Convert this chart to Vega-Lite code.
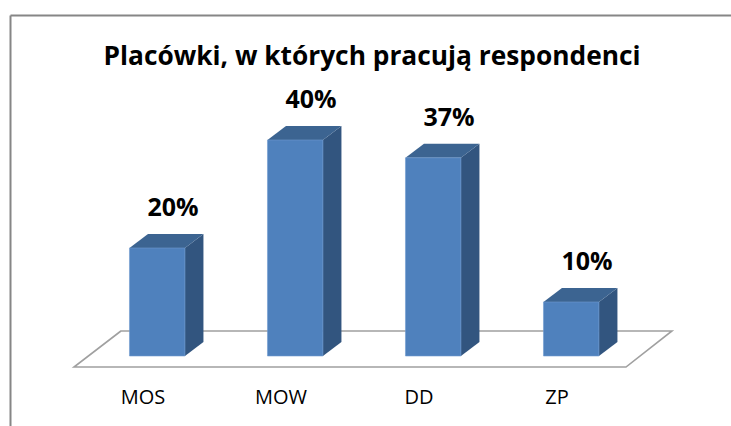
{
  "$schema": "https://vega.github.io/schema/vega-lite/v6.json",
  "width": 721,
  "height": 411,
  "autosize": "none",
  "padding": {"left": 10, "top": 15, "right": 0, "bottom": 0},
  "background": "white",
  "title": {"text": "Placówki, w których pracują respondenci", "font": "Open Sans", "fontSize": 26.3, "fontWeight": "bold", "color": "#000000", "anchor": "middle", "frame": "group", "orient": "top", "dx": 1.5, "dy": 55, "offset": 0},
  "config": {"view": {"stroke": null}},
  "data": {"values": [
    {"category": "MOS", "value": 20},
    {"category": "MOW", "value": 40},
    {"category": "DD", "value": 36.7},
    {"category": "ZP", "value": 10}
  ]},
  "transform": [
    {"window": [{"op": "row_number", "as": "n"}]},
    {"calculate": "datum.n - 1", "as": "i"}
  ],
  "encoding": {
    "x": {"field": "px", "type": "quantitative", "scale": {"domain": [-0.4638, 4.7609], "range": [0, 721], "nice": false, "zero": false},
      "axis": {"orient": "top", "title": null, "labels": false, "ticks": false, "grid": false, "domain": true, "domainColor": "#868686", "domainWidth": 2}},
    "y": {"field": "py", "type": "quantitative", "scale": {"domain": [-12.963, 63.148], "range": [411, 0], "nice": false, "zero": false},
      "axis": {"orient": "left", "title": null, "labels": false, "ticks": false, "grid": false, "domain": true, "domainColor": "#868686", "domainWidth": 2}}
  },
  "layer": [
    {
      "transform": [
        {"aggregate": [{"op": "count", "as": "c"}]},
        {"calculate": "[0, 1]", "as": "t"},
        {"flatten": ["t"]},
        {"calculate": "datum.t * 0.34", "as": "px"},
        {"calculate": "datum.c + datum.t * 0.333", "as": "px2"},
        {"calculate": "-2.04 + datum.t * 6.67", "as": "py"}
      ],
      "mark": {"type": "area", "orient": "horizontal", "fill": "#ffffff", "stroke": "#a0a0a0", "strokeWidth": 1.6},
      "encoding": {"x2": {"field": "px2"}}
    },
    {
      "transform": [
        {"calculate": "[0, 1]", "as": "t"},
        {"flatten": ["t"]},
        {"calculate": "datum.i + 0.804 + datum.t * 0.134", "as": "px"},
        {"calculate": "datum.t * 2.59", "as": "py2"},
        {"calculate": "datum.value + datum.t * 2.59", "as": "py"}
      ],
      "mark": {"type": "area", "orient": "vertical", "fill": "#32557f"},
      "encoding": {"y2": {"field": "py2"}, "detail": {"field": "category"}}
    },
    {
      "transform": [
        {"calculate": "[0, 1]", "as": "t"},
        {"flatten": ["t"]},
        {"calculate": "datum.i + 0.402 + datum.t * 0.134", "as": "px"},
        {"calculate": "datum.i + 0.804 + datum.t * 0.134", "as": "px2"},
        {"calculate": "datum.value + datum.t * 2.59", "as": "py"}
      ],
      "mark": {"type": "area", "orient": "horizontal", "fill": "#3c6491"},
      "encoding": {"x2": {"field": "px2"}, "detail": {"field": "category"}}
    },
    {
      "transform": [
        {"calculate": "datum.i + 0.402", "as": "px"},
        {"calculate": "datum.i + 0.804", "as": "px2"},
        {"calculate": "datum.value", "as": "py"},
        {"calculate": "0", "as": "py2"}
      ],
      "mark": {"type": "rect", "fill": "#4f81bd", "stroke": "#6f9bd0", "strokeWidth": 0.6},
      "encoding": {"x2": {"field": "px2"}, "y2": {"field": "py2"}}
    },
    {
      "transform": [
        {"calculate": "datum.i + 0.5", "as": "px"},
        {"calculate": "datum.value", "as": "py"},
        {"calculate": "format(datum.value, '.0f') + '%'", "as": "lab"}
      ],
      "mark": {"type": "text", "font": "Open Sans", "fontSize": 25, "fontWeight": "bold", "color": "#000000", "align": "center", "baseline": "middle", "dx": 30, "dy": -39.5},
      "encoding": {"text": {"field": "lab"}}
    },
    {
      "transform": [
        {"calculate": "datum.i + 0.5", "as": "px"},
        {"calculate": "-7.8", "as": "py"}
      ],
      "mark": {"type": "text", "font": "Open Sans", "fontSize": 20, "color": "#000000", "align": "center", "baseline": "middle"},
      "encoding": {"text": {"field": "category"}}
    }
  ]
}
